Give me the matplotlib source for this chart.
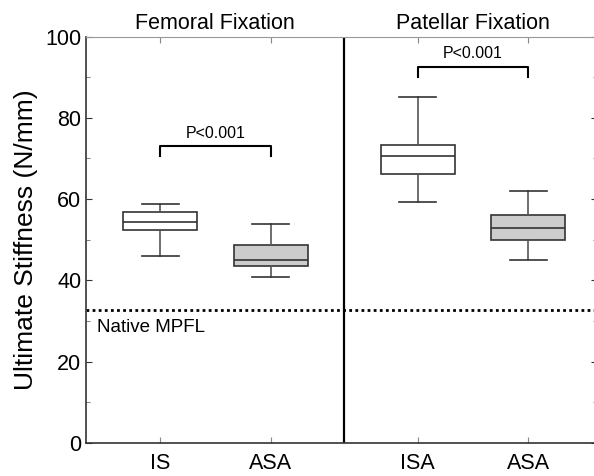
import matplotlib
matplotlib.use("Agg")
import matplotlib.pyplot as plt
from matplotlib.ticker import MultipleLocator

plt.rcParams['font.family'] = ['Liberation Sans', 'DejaVu Sans']

# donnees
groupes = ["Femoral Fixation", "Patellar Fixation"]
etiquettes = ["IS", "ASA", "ISA", "ASA"]
positions = [1, 2, 3.333, 4.333]
minimums = [46.1, 40.9, 59.3, 45.1]
q1 = [52.4, 43.6, 66.1, 49.9]
medianes = [54.35, 44.9, 70.6, 53.0]
q3 = [56.8, 48.6, 73.3, 56.0]
maximums = [58.8, 53.9, 85.1, 61.9]
couleurs = ["white", "#cccccc", "white", "#cccccc"]
native_mpfl = 32.8
p_valeur = "P<0.001"

fig = plt.figure(figsize=(5.94, 4.76), dpi=100)
ax = fig.add_axes([86 / 594, 33 / 476, 510.5 / 594, 406.5 / 476])

stats = []
for i in range(len(etiquettes)):
    stats.append({"whislo": minimums[i], "q1": q1[i], "med": medianes[i],
                  "q3": q3[i], "whishi": maximums[i], "fliers": []})

bp = ax.bxp(stats, positions=positions, widths=0.67, patch_artist=True,
            showfliers=False, capwidths=0.335,
            boxprops=dict(edgecolor="#333333", linewidth=1.2),
            medianprops=dict(color="#333333", linewidth=1.2),
            whiskerprops=dict(color="#555555", linewidth=1.2),
            capprops=dict(color="#333333", linewidth=1.2))
for patch, c in zip(bp["boxes"], couleurs):
    patch.set_facecolor(c)

# ligne du MPFL natif
ax.axhline(native_mpfl, color="black", linestyle=(0, (1, 1.2)), linewidth=2)
ax.text(0.43, native_mpfl - 2.3, "Native MPFL", fontsize=13.5, va="top", ha="left")

# separation entre les deux groupes
ax.axvline((positions[1] + positions[2]) / 2, color="black", linewidth=1.6)

# crochets de significativite
def crochet(x1, x2, y, h=2.5):
    ax.plot([x1, x1, x2, x2], [y - h, y, y, y - h], color="black", linewidth=1.5)
    ax.text((x1 + x2) / 2, y + 1.4, p_valeur, ha="center", va="bottom", fontsize=11.5)

crochet(positions[0], positions[1], 73)
crochet(positions[2], positions[3], 92.6)

# titres des groupes
for k, g in enumerate(groupes):
    xc = (positions[2 * k] + positions[2 * k + 1]) / 2
    ax.text(xc, 100.6, g, ha="center", va="bottom", fontsize=15.5)

ax.set_xlim(0.33, 4.95)
ax.set_ylim(0, 100)
ax.set_xticks(positions)
ax.set_xticklabels(etiquettes, fontsize=15.5)
ax.yaxis.set_major_locator(MultipleLocator(20))
ax.yaxis.set_minor_locator(MultipleLocator(10))
ax.tick_params(axis="y", labelsize=15.5, direction="in", length=4, color="#333333",
               right=True)
ax.tick_params(axis="y", which="minor", direction="in", length=3, right=True,
               color="#666666")
ax.tick_params(axis="x", direction="in", length=4, top=True, pad=7.5,
               color="#888888")
ax.set_ylabel("Ultimate Stiffness (N/mm)", fontsize=19, labelpad=5)

for cote in ["top", "right"]:
    ax.spines[cote].set_color("#999999")
for cote in ["left", "bottom"]:
    ax.spines[cote].set_color("#333333")
    ax.spines[cote].set_linewidth(1.2)

fig.savefig("out.png", dpi=100)
